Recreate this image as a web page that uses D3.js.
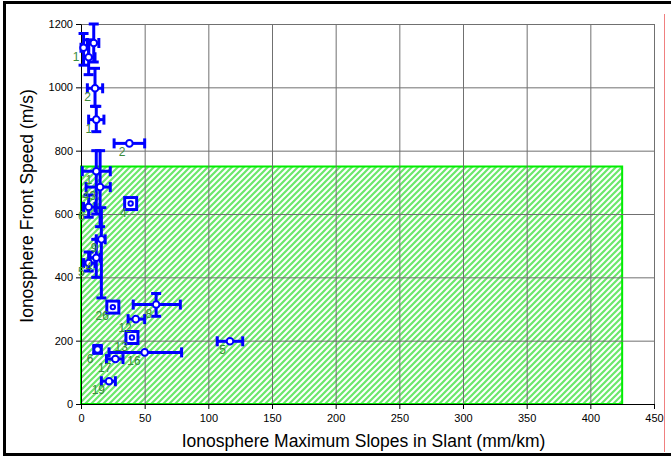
<!DOCTYPE html>
<html>
<head>
<meta charset="utf-8">
<script src="https://cdn.jsdelivr.net/npm/d3@7"></script>
<style>
  body { margin: 0; background: #fff; }
  svg { display: block; font-family: "Liberation Sans", Arial, sans-serif; }
</style>
</head>
<body>
<div id="chart"></div>
<script>
// Data
const xTicks = [0, 50, 100, 150, 200, 250, 300, 350, 400, 450];
const yTicks = [0, 200, 400, 600, 800, 1000, 1200];

// tolerance zone (hatched green box)
const zoneX = [0, 425];
const zoneY = [0, 750];

// events: slope (mm/km), speed (m/s), error ranges, marker, label
const ptX    = [2,    6,    10,   11,   12,  38,  12,  15,  39,  6,   16,  12,  6,   25,  59,  43,  40,  50,  27,  13,  22,  117];
const ptY    = [1125, 1095, 1140, 997,  898, 823, 735, 685, 633, 622, 520, 462, 445, 306, 314, 268, 210, 163, 142, 172, 72,  198];
const xLo    = [0,    2,    5,    5,    6,   26,  1,   4,   null,2,  12,  7,   2,   null,41,  37,  null,22,  20,  10,  16,  107];
const xHi    = [6,    11,   14,   17,   18,  50,  23,  23,  null,11, 19,  15,  11,  null,78,  50,  null,79,  33,  16,  27,  127];
const yLo    = [1070, 1040, 1080, 940,  860, null,600, 560, null,590, 335, 400, 420, null,277, null,null,null,null,160, null,null];
const yHi    = [1170, 1150, 1200, 1060, 940, null,800, 800, null,660, 620, 520, 480, null,349, null,null,null,null,185, null,null];
const shape  = ["o","o","o","o","o","o","o","o","s","o","o","o","o","s","o","o","s","o","o","o","o","o"];
const labels = ["1", "",  "",  "2", "1", "2", "1", "43","4", "6", "9", "4", "5", "26","8", "12","13","16","17","6", "19","5"];

const xTitle = "Ionosphere Maximum Slopes in Slant (mm/km)";
const yTitle = "Ionosphere Front Speed (m/s)";

const W = 671, H = 459;
const margin = { top: 24, right: 17, bottom: 55, left: 81 };
const width = W - margin.left - margin.right;
const height = H - margin.top - margin.bottom;

const svg = d3.select('#chart').append('svg')
    .attr('width', W)
    .attr('height', H);

// hatch pattern for the zone
const pat = svg.append('defs').append('pattern')
    .attr('id', 'hatch')
    .attr('patternUnits', 'userSpaceOnUse')
    .attr('width', 6)
    .attr('height', 6);
pat.append('rect').attr('width', 6).attr('height', 6).attr('fill', '#fff');
pat.append('path')
    .attr('d', 'M-1,1 l2,-2 M0,6 l6,-6 M5,7 l2,-2')
    .attr('stroke', '#6be86b')
    .attr('stroke-width', 2.2);

// outer frame + red line on the right
svg.append('rect')
    .attr('x', 4.5).attr('y', 2.5)
    .attr('width', 720).attr('height', 452)
    .attr('fill', 'none')
    .attr('stroke', '#000')
    .attr('stroke-width', 3);
svg.append('line')
    .attr('x1', 664.5).attr('x2', 664.5)
    .attr('y1', 14).attr('y2', 452)
    .attr('stroke', '#f08080')
    .attr('stroke-width', 1);

const g = svg.append('g')
    .attr('transform', `translate(${margin.left},${margin.top})`);

const x = d3.scaleLinear().domain([0, 450]).range([0, width]);
const y = d3.scaleLinear().domain([0, 1200]).range([height, 0]);

// zone
g.append('rect')
    .attr('x', x(zoneX[0]))
    .attr('y', y(zoneY[1]))
    .attr('width', x(zoneX[1]) - x(zoneX[0]))
    .attr('height', y(zoneY[0]) - y(zoneY[1]))
    .attr('fill', 'url(#hatch)')
    .attr('stroke', '#00ee00')
    .attr('stroke-width', 2);

// grid
g.append('g')
    .attr('class', 'grid')
    .attr('transform', `translate(0,${height})`)
    .call(d3.axisBottom(x).tickValues(xTicks).tickSize(-height).tickFormat(''))
    .call(s => s.select('.domain').remove())
    .selectAll('.tick line')
    .attr('stroke', '#707070');
g.append('g')
    .attr('class', 'grid')
    .call(d3.axisLeft(y).tickValues(yTicks).tickSize(-width).tickFormat(''))
    .call(s => s.select('.domain').remove())
    .selectAll('.tick line')
    .attr('stroke', '#707070');

// axes
const xAxis = g.append('g')
    .attr('transform', `translate(0,${height})`)
    .call(d3.axisBottom(x).tickValues(xTicks).tickFormat(d3.format('d'))
        .tickSize(5).tickSizeOuter(0).tickPadding(5));
const yAxis = g.append('g')
    .call(d3.axisLeft(y).tickValues(yTicks).tickFormat(d3.format('d'))
        .tickSize(5).tickSizeOuter(0).tickPadding(3));
[xAxis, yAxis].forEach(a => {
    a.selectAll('text').attr('font-size', 11).attr('fill', '#000')
        .attr('font-family', '"Liberation Sans", Arial, sans-serif');
    a.selectAll('line, path').attr('stroke', '#000');
});

// axis titles
svg.append('text')
    .attr('x', margin.left + width / 2 - 4)
    .attr('y', 447)
    .attr('text-anchor', 'middle')
    .attr('font-size', 17.5)
    .text(xTitle);
svg.append('text')
    .attr('transform', `translate(33,${margin.top + height / 2 - 8}) rotate(-90)`)
    .attr('text-anchor', 'middle')
    .attr('font-size', 17.5)
    .text(yTitle);

// events
const pts = ptX.map((v, i) => ({
    x: v, y: ptY[i], xlo: xLo[i], xhi: xHi[i], ylo: yLo[i], yhi: yHi[i],
    shape: shape[i], label: labels[i]
}));

const blue = '#0000ff';
const cap = 5;
const bars = g.append('g')
    .attr('stroke', blue)
    .attr('stroke-width', 3)
    .attr('fill', 'none');

pts.forEach(d => {
    if (d.xlo != null) {
        bars.append('line')
            .attr('x1', x(d.xlo)).attr('x2', x(d.xhi))
            .attr('y1', y(d.y)).attr('y2', y(d.y));
        [d.xlo, d.xhi].forEach(v => bars.append('line')
            .attr('x1', x(v)).attr('x2', x(v))
            .attr('y1', y(d.y) - cap).attr('y2', y(d.y) + cap));
    }
    if (d.ylo != null) {
        bars.append('line')
            .attr('x1', x(d.x)).attr('x2', x(d.x))
            .attr('y1', y(d.ylo)).attr('y2', y(d.yhi));
        [d.ylo, d.yhi].forEach(v => bars.append('line')
            .attr('x1', x(d.x) - cap).attr('x2', x(d.x) + cap)
            .attr('y1', y(v)).attr('y2', y(v)));
    }
});

// markers
g.selectAll('.sq')
    .data(pts.filter(d => d.shape === 's'))
    .enter().append('rect')
    .attr('class', 'sq')
    .attr('x', d => x(d.x) - 6)
    .attr('y', d => y(d.y) - 6)
    .attr('width', 12).attr('height', 12)
    .attr('fill', '#fff')
    .attr('stroke', blue)
    .attr('stroke-width', 3);

g.selectAll('.dot')
    .data(pts)
    .enter().append('circle')
    .attr('class', 'dot')
    .attr('cx', d => x(d.x))
    .attr('cy', d => y(d.y))
    .attr('r', d => d.shape === 's' ? 2.2 : 3.3)
    .attr('fill', '#fff')
    .attr('stroke', blue)
    .attr('stroke-width', 2);

// event numbers
g.selectAll('.lbl')
    .data(pts.filter(d => d.label))
    .enter().append('text')
    .attr('class', 'lbl')
    .attr('x', d => x(d.x) - 4)
    .attr('y', d => y(d.y) + 13)
    .attr('text-anchor', 'end')
    .attr('font-size', 12)
    .attr('fill', '#3a8a3a')
    .text(d => d.label);
</script>
</body>
</html>
